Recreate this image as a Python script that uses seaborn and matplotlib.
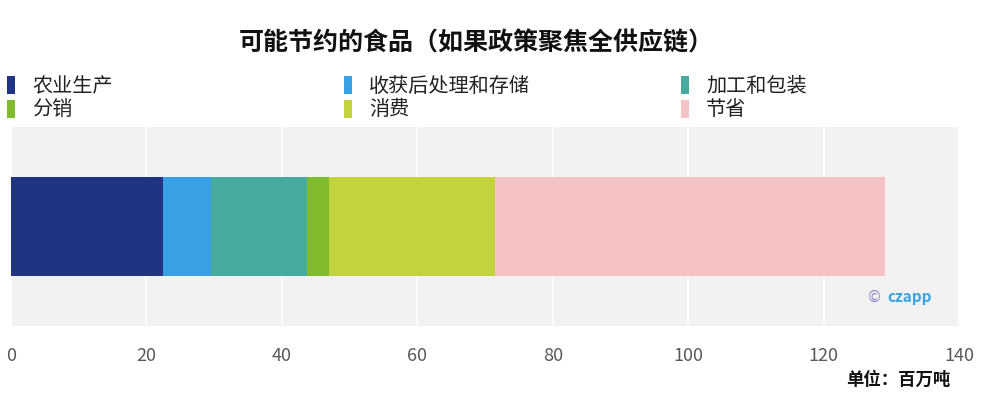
import matplotlib
matplotlib.use("Agg")
import matplotlib.pyplot as plt
import seaborn as sns
import numpy as np

categories = ["农业生产", "收获后处理和存储", "加工和包装", "分销", "消费", "节省"]
values = [22.4, 7.1, 14.2, 3.2, 24.6, 57.5]
colors = ["#213383", "#38a0e4", "#47aa9e", "#80bb2e", "#c3d33e", "#f5c3c4"]
xticks = [0, 20, 40, 60, 80, 100, 120, 140]
title = "可能节约的食品（如果政策聚焦全供应链）"
unit = "单位：百万吨"

sns.set_theme(style="darkgrid")
plt.rcParams['font.family'] = ['Noto Sans CJK SC', 'DejaVu Sans']

fig = plt.figure(figsize=(9.83, 4.16), dpi=100)
ax = fig.add_axes([11/983, 1-326/416, 948/983, 199/416])
ax.set_facecolor("#f2f2f2")

cum = np.cumsum(values)
handles = {}
for i in range(len(values) - 1, -1, -1):
    sns.barplot(x=[cum[i]], y=[""], color=colors[i], orient="h", width=0.5,
                saturation=1, ax=ax, edgecolor="none", linewidth=0)
    handles[i] = ax.patches[-1]

ax.set_xlim(0, 140)
ax.set_ylim(0.5, -0.5)
ax.set_xticks(xticks)
ax.set_xticklabels([str(t) for t in xticks], fontsize=13, color="#595959")
ax.set_yticks([])
ax.set_xlabel("")
ax.set_ylabel("")
ax.grid(axis="x", color="white", linewidth=1.2)
ax.grid(axis="y", visible=False)
ax.set_axisbelow(True)
ax.tick_params(axis="x", length=0, pad=15)
for s in ax.spines.values():
    s.set_visible(False)

fig.text(0.485, 1-43/416, title, ha="center", va="center", fontsize=18,
         fontweight="bold", color="#111111")

col_x = [3/983, 340/983, 677/983]
for c in range(3):
    idx = [c, c + 3]
    leg = fig.legend([handles[i] for i in idx], [categories[i] for i in idx],
                     loc="upper left", bbox_to_anchor=(col_x[c], 1-72/416),
                     frameon=False, fontsize=14.5, handlelength=0.4,
                     handleheight=1.0, handletextpad=0.85, labelspacing=0.12,
                     borderaxespad=0, borderpad=0.2)
    for t in leg.get_texts():
        t.set_color("#222222")

fig.text(950/983, 1-380/416, unit, ha="right", va="center", fontsize=12.5,
         fontweight="bold", color="#111111")

ax.text(0.903, 0.145, "©", transform=ax.transAxes, ha="left", va="center",
        fontsize=11, color="#8c84c4")
ax.text(0.924, 0.145, "czapp", transform=ax.transAxes, ha="left", va="center",
        fontsize=11, fontweight="bold", color="#3aa3e3")

fig.savefig("out.png", dpi=100, facecolor="white")
